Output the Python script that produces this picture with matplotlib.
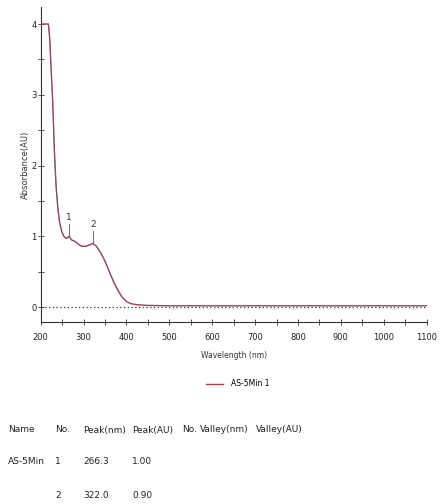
import matplotlib
matplotlib.use('Agg')
import matplotlib.pyplot as plt
import numpy as np

# spectrum
wavelength = [200, 218, 221, 224, 228, 232, 236, 240, 244, 249, 254, 260, 266.3, 272, 280,
              288, 296, 305, 314, 322, 330, 340, 350, 360, 370, 380, 390, 400, 410, 425,
              450, 500, 600, 800, 1100]
absorbance = [4.0, 4.0, 3.8, 3.4, 2.9, 2.2, 1.7, 1.4, 1.2, 1.07, 1.0, 0.97, 1.0, 0.95, 0.93,
              0.89, 0.86, 0.86, 0.88, 0.90, 0.86, 0.77, 0.65, 0.50, 0.36, 0.24, 0.14, 0.08, 0.05, 0.035,
              0.025, 0.02, 0.02, 0.02, 0.02]

peak_nm = [266.3, 322.0]
peak_au = [1.00, 0.90]
peak_no = ["1", "2"]

sample_name = "AS-5Min"
legend_label = "AS-5Min 1"
table_headers = ["Name", "No.", "Peak(nm)", "Peak(AU)", "No.", "Valley(nm)", "Valley(AU)"]

narrow = ['Liberation Sans Narrow', 'DejaVu Sans']
plt.rcParams['font.family'] = narrow

fig = plt.figure(figsize=(4.4, 5.04), dpi=100)
ax = fig.add_axes([0.0925, 0.361, 0.877, 0.625])

line_color = '#a8404c'
ax.axhline(0, color='#333333', lw=0.9, ls=(0, (1, 2)), zorder=1)
curve, = ax.plot(wavelength, absorbance, color=line_color, lw=1.0, zorder=3, label=legend_label)
ax.plot(wavelength[:27], absorbance[:27], color='#6a5a5e', lw=0.6, alpha=0.6, zorder=4)

# peak markers
for x, y, n in zip(peak_nm, peak_au, peak_no):
    ax.plot([x, x], [y, y + 0.17], color='#555555', lw=0.6, zorder=5)
    ax.text(x, y + 0.2, n, ha='center', va='bottom', fontsize=6.5, color='#333333')

ax.set_xlim(200, 1100)
ax.set_ylim(-0.21, 4.24)
ax.set_xticks(np.arange(200, 1101, 100))
ax.set_xticks(np.arange(200, 1101, 50), minor=True)
ax.set_yticks([0, 1, 2, 3, 4])
ax.set_yticks(np.arange(0, 4.01, 0.5), minor=True)
ax.tick_params(axis='both', which='both', direction='inout', length=4, width=0.6, colors='#333333')
ax.tick_params(labelsize=6, labelcolor='#222222')
ax.tick_params(axis='x', pad=6)
ax.tick_params(axis='y', pad=1)
for s in ['top', 'right']:
    ax.spines[s].set_visible(False)
for s in ['left', 'bottom']:
    ax.spines[s].set_linewidth(0.8)
    ax.spines[s].set_color('#333333')

ax.set_ylabel("Absorbance(AU)", fontsize=6, color='#333333', labelpad=1)
ax.set_xlabel("Wavelength (nm)", fontsize=5.5, color='#333333', labelpad=6)

fig.legend(handles=[curve], loc='center', bbox_to_anchor=(0.54, 1 - 384 / 504),
           frameon=False, fontsize=5.5, handlelength=2.2, handletextpad=1.0)

# peak table under the chart
col_x = [8, 55, 83, 132, 182, 200, 256]
row_y = [430, 462, 495]
for x, h in zip(col_x, table_headers):
    fig.text(x / 440, 1 - row_y[0] / 504, h, fontsize=6.5, va='center', color='#222222')
for i in range(len(peak_nm)):
    y = 1 - row_y[i + 1] / 504
    if i == 0:
        fig.text(col_x[0] / 440, y, sample_name, fontsize=6.5, va='center', color='#222222')
    fig.text(col_x[1] / 440, y, peak_no[i], fontsize=6.5, va='center', color='#222222')
    fig.text(col_x[2] / 440, y, f"{peak_nm[i]:.1f}", fontsize=6.5, va='center', color='#222222')
    fig.text(col_x[3] / 440, y, f"{peak_au[i]:.2f}", fontsize=6.5, va='center', color='#222222')

fig.savefig('out.png', dpi=100)
